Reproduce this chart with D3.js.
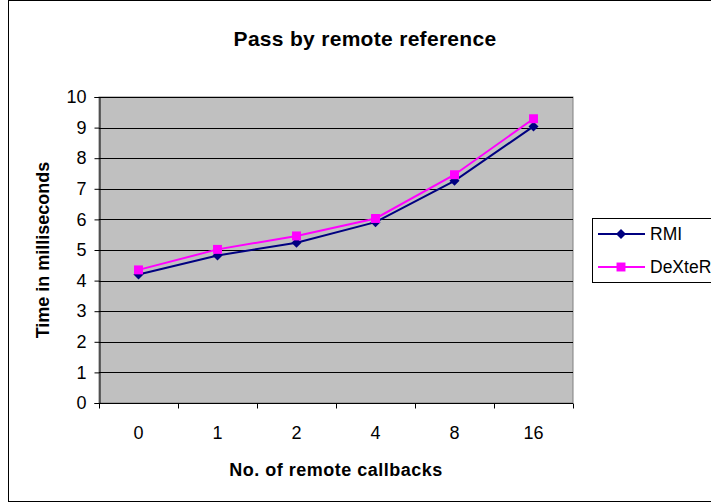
<!DOCTYPE html>
<html>
<head>
<meta charset="utf-8">
<script src="https://cdn.jsdelivr.net/npm/d3@7"></script>
<style>
  body { margin: 0; background: #fff; }
  svg { display: block; font-family: "Liberation Sans", Arial, sans-serif; }
</style>
</head>
<body>
<svg width="711" height="504"></svg>
<script>
// Chart data
const categories = ["0", "1", "2", "4", "8", "16"];
const rmiTimes = [4.2, 4.82, 5.24, 5.91, 7.26, 9.04];
const dexterTimes = [4.35, 5.02, 5.46, 6.03, 7.46, 9.29];
const yTicks = [0, 1, 2, 3, 4, 5, 6, 7, 8, 9, 10];

const seriesList = [
    { name: "RMI", values: rmiTimes, color: "#000080", symbol: d3.symbolSquare, size: 50, rotate: 45 },
    { name: "DeXteR", values: dexterTimes, color: "#ff00ff", symbol: d3.symbolSquare, size: 80, rotate: 0 }
];

const svg = d3.select("svg");

// Outer chart frame (its right side lies past the window edge)
svg.append("rect")
    .attr("x", 8.5).attr("y", 0.5)
    .attr("width", 720).attr("height", 501)
    .attr("fill", "#fff")
    .attr("stroke", "#000");

// Plot area
const plot = { left: 99, top: 97, right: 573, bottom: 403 };

const x = d3.scaleBand()
    .domain(categories)
    .range([plot.left, plot.right]);

const y = d3.scaleLinear()
    .domain([0, 10])
    .range([plot.bottom, plot.top]);

svg.append("rect")
    .attr("x", plot.left).attr("y", plot.top)
    .attr("width", plot.right - plot.left)
    .attr("height", plot.bottom - plot.top)
    .attr("fill", "#c0c0c0")
    .attr("stroke", "#808080");

// Horizontal gridlines
svg.append("g")
    .selectAll("line")
    .data(yTicks.slice(1))
    .enter().append("line")
    .attr("x1", plot.left).attr("x2", plot.right)
    .attr("y1", d => Math.round(y(d)) + 0.5)
    .attr("y2", d => Math.round(y(d)) + 0.5)
    .attr("stroke", "#000")
    .attr("stroke-width", 1);

// Y axis
const yAxis = svg.append("g")
    .attr("transform", `translate(${plot.left + 0.5},0)`)
    .call(d3.axisLeft(y).tickValues(yTicks).tickSize(5).tickPadding(8));
yAxis.attr("font-size", null).attr("font-family", null);
yAxis.selectAll("text").attr("font-size", 18);

// X axis: ticks sit on band boundaries, labels in the band centers
const xAxis = svg.append("g")
    .attr("transform", `translate(0,${plot.bottom + 0.5})`);
xAxis.append("line")
    .attr("x1", plot.left).attr("x2", plot.right)
    .attr("stroke", "#000");
xAxis.selectAll("line.tick")
    .data(categories.concat(["end"]))
    .enter().append("line")
    .attr("class", "tick")
    .attr("x1", (d, i) => Math.round(plot.left + i * x.step()) + 0.5)
    .attr("x2", (d, i) => Math.round(plot.left + i * x.step()) + 0.5)
    .attr("y1", 0).attr("y2", 5)
    .attr("stroke", "#000");
xAxis.selectAll("text")
    .data(categories)
    .enter().append("text")
    .attr("x", d => x(d) + x.bandwidth() / 2)
    .attr("y", 35)
    .attr("text-anchor", "middle")
    .attr("font-size", 18)
    .text(d => d);

// Lines and markers
const line = d3.line()
    .x((d, i) => x(categories[i]) + x.bandwidth() / 2)
    .y(d => y(d));

seriesList.forEach(s => {
    svg.append("path")
        .datum(s.values)
        .attr("fill", "none")
        .attr("stroke", s.color)
        .attr("stroke-width", 2)
        .attr("d", line);

    svg.append("g")
        .selectAll("path")
        .data(s.values)
        .enter().append("path")
        .attr("d", d3.symbol().type(s.symbol).size(s.size))
        .attr("transform", (d, i) => `translate(${x(categories[i]) + x.bandwidth() / 2},${y(d)}) rotate(${s.rotate})`)
        .attr("fill", s.color);
});

// Titles
svg.append("text")
    .attr("x", 365).attr("y", 46)
    .attr("text-anchor", "middle")
    .attr("font-size", 21).attr("font-weight", "bold")
    .attr("letter-spacing", 0.3)
    .text("Pass by remote reference");

svg.append("text")
    .attr("x", (plot.left + plot.right) / 2).attr("y", 476)
    .attr("text-anchor", "middle")
    .attr("font-size", 18).attr("font-weight", "bold")
    .attr("letter-spacing", 0.5)
    .text("No. of remote callbacks");

svg.append("text")
    .attr("transform", `translate(49,${(plot.top + plot.bottom) / 2}) rotate(-90)`)
    .attr("text-anchor", "middle")
    .attr("font-size", 18).attr("font-weight", "bold")
    .text("Time in milliseconds");

// Legend (runs off the right edge like the original)
const legend = svg.append("g").attr("transform", "translate(592,218)");
legend.append("rect")
    .attr("x", 0.5).attr("y", 0.5)
    .attr("width", 130).attr("height", 64)
    .attr("fill", "#fff")
    .attr("stroke", "#000");

const legendItem = legend.selectAll("g.item")
    .data(seriesList)
    .enter().append("g")
    .attr("class", "item")
    .attr("transform", (d, i) => `translate(0,${16 + i * 33})`);
legendItem.append("line")
    .attr("x1", 6).attr("x2", 53)
    .attr("stroke", d => d.color)
    .attr("stroke-width", 2);
legendItem.append("path")
    .attr("d", d => d3.symbol().type(d.symbol).size(d.size)())
    .attr("transform", d => `translate(29,0) rotate(${d.rotate})`)
    .attr("fill", d => d.color);
legendItem.append("text")
    .attr("x", 58).attr("y", 6)
    .attr("font-size", 17.5)
    .text(d => d.name);
</script>
</body>
</html>
